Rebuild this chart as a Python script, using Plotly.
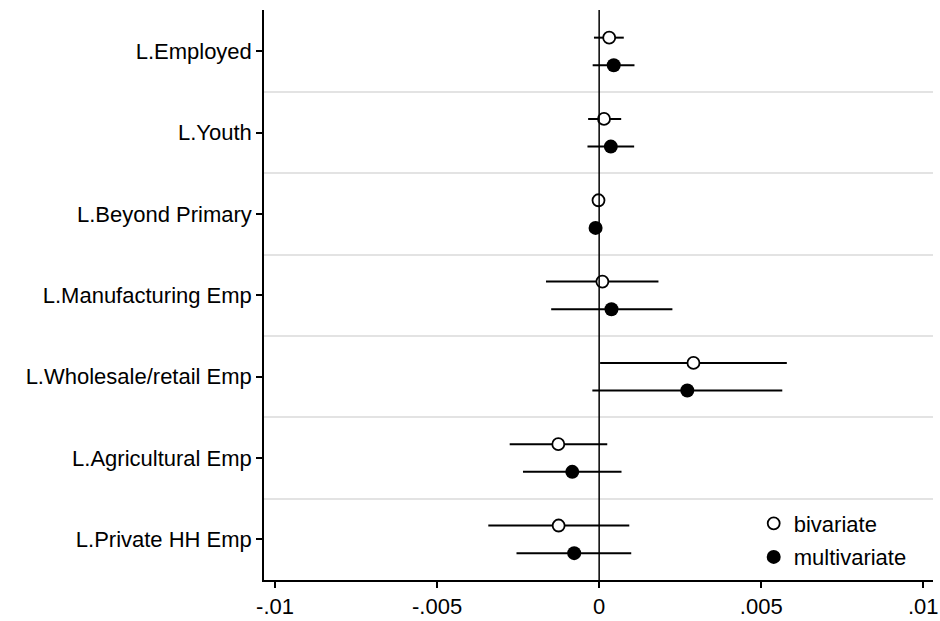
import plotly.graph_objects as go

categories = ["L.Employed", "L.Youth", "L.Beyond Primary", "L.Manufacturing Emp",
              "L.Wholesale/retail Emp", "L.Agricultural Emp", "L.Private HH Emp"]

biv_est = [0.00031, 0.00015, -0.00002, 0.00010, 0.00291, -0.00126, -0.00125]
biv_lo = [-0.00016, -0.00034, -0.00015, -0.00164, 0.00003, -0.00276, -0.00342]
biv_hi = [0.00076, 0.00068, 0.00010, 0.00183, 0.00579, 0.00025, 0.00093]

mul_est = [0.00045, 0.00036, -0.00011, 0.00038, 0.00272, -0.00083, -0.00077]
mul_lo = [-0.00020, -0.00036, -0.00020, -0.00148, -0.00021, -0.00235, -0.00255]
mul_hi = [0.00109, 0.00108, -0.00002, 0.00226, 0.00565, 0.00069, 0.00099]

xtick_vals = [-0.01, -0.005, 0, 0.005, 0.01]
xtick_text = ["-.01", "-.005", "0", ".005", ".01"]

pos = list(range(1, len(categories) + 1))
off = 0.17

fig = go.Figure()
fig.add_trace(go.Scatter(
    x=biv_est, y=[p - off for p in pos], mode="markers", name="bivariate",
    legendgroup="a",
    marker=dict(symbol="circle", size=12, color="white", line=dict(color="black", width=1.8)),
    error_x=dict(type="data", symmetric=False,
                 array=[h - e for h, e in zip(biv_hi, biv_est)],
                 arrayminus=[e - l for e, l in zip(biv_est, biv_lo)],
                 width=0, thickness=2, color="black"),
))
fig.add_trace(go.Scatter(
    x=mul_est, y=[p + off for p in pos], mode="markers", name="multivariate",
    legendgroup="b",
    marker=dict(symbol="circle", size=14, color="black", line=dict(color="black", width=0)),
    error_x=dict(type="data", symmetric=False,
                 array=[h - e for h, e in zip(mul_hi, mul_est)],
                 arrayminus=[e - l for e, l in zip(mul_est, mul_lo)],
                 width=0, thickness=2, color="black"),
))

fig.add_shape(type="line", xref="x", yref="paper", x0=0, x1=0, y0=0, y1=1,
              line=dict(color="black", width=1.5), layer="above")

fig.update_layout(
    width=940, height=621,
    margin=dict(l=264, r=2, t=10, b=36),
    plot_bgcolor="white", paper_bgcolor="white",
    font=dict(family="Liberation Sans, Arial, sans-serif", size=22, color="black"),
    showlegend=True,
    legend=dict(x=0.732, y=0.136, xanchor="left", yanchor="top",
                bgcolor="white", borderwidth=0, tracegroupgap=2,
                font=dict(size=22), itemsizing="trace"),
    xaxis=dict(range=[-0.01034, 0.0103], tickmode="array", tickvals=xtick_vals,
               ticktext=xtick_text, showgrid=False, zeroline=False,
               showline=True, linecolor="black", linewidth=1.5,
               ticks="outside", ticklen=6, tickwidth=1.5, tickcolor="black",
               ticklabeloverflow="allow"),
    yaxis=dict(range=[7.5, 0.49], tickmode="array", tickvals=pos, ticktext=categories,
               showgrid=False, zeroline=False,
               showline=True, linecolor="black", linewidth=1.5,
               ticks="outside", ticklen=6, tickwidth=1.5, tickcolor="black",
               minor=dict(tickmode="array", tickvals=[p + 0.5 for p in pos[:-1]],
                          showgrid=True, gridcolor="#e3e3e3", gridwidth=1.5, ticks="")),
)

fig.write_html("out.html", config={"displayModeBar": False},
               post_script="document.body.style.margin='0';document.body.style.overflow='hidden';")
